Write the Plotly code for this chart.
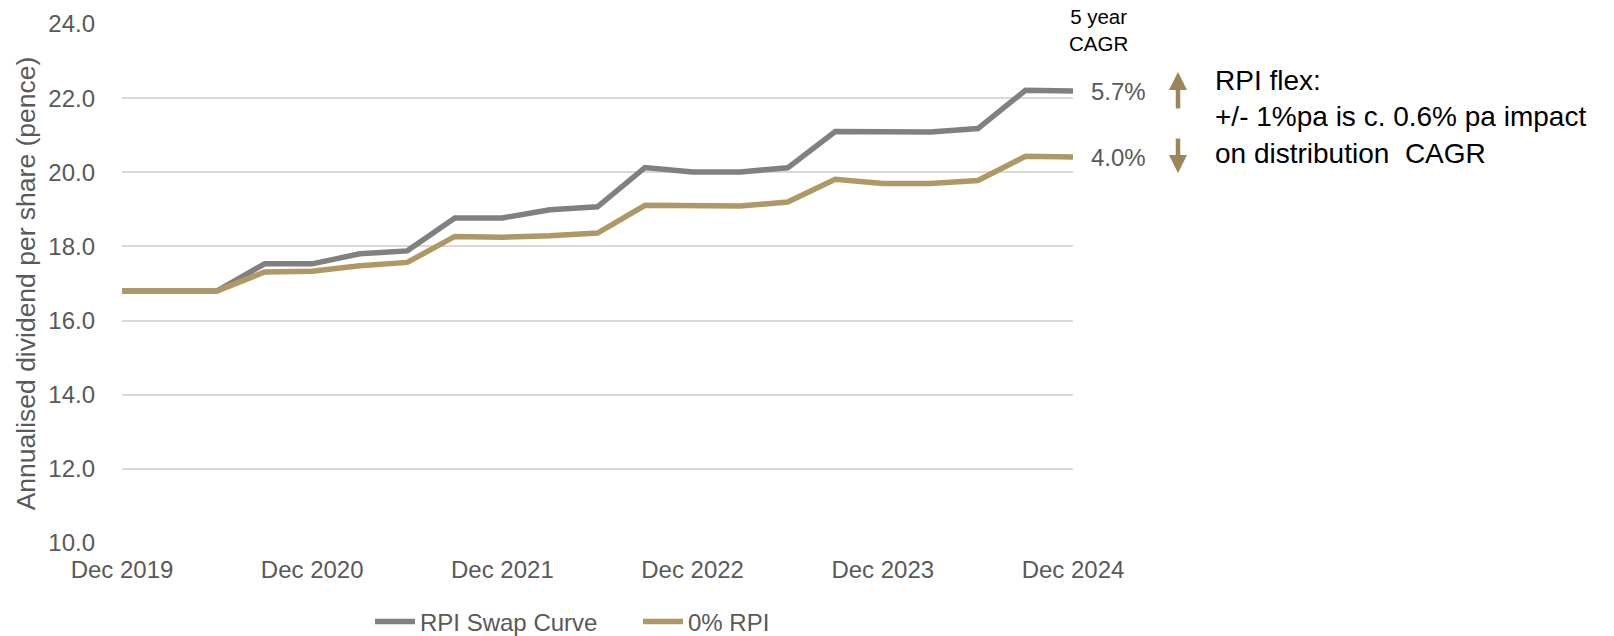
import plotly.graph_objects as go

quarters = ["Dec 2019", "Mar 2020", "Jun 2020", "Sep 2020", "Dec 2020", "Mar 2021", "Jun 2021",
            "Sep 2021", "Dec 2021", "Mar 2022", "Jun 2022", "Sep 2022", "Dec 2022", "Mar 2023",
            "Jun 2023", "Sep 2023", "Dec 2023", "Mar 2024", "Jun 2024", "Sep 2024", "Dec 2024"]
tick_labels = ["Dec 2019", "Dec 2020", "Dec 2021", "Dec 2022", "Dec 2023", "Dec 2024"]

rpi_swap = [16.80, 16.80, 16.80, 17.53, 17.53, 17.80, 17.88, 18.77, 18.77, 18.99, 19.07,
            20.13, 20.01, 20.01, 20.12, 21.10, 21.10, 21.09, 21.18, 22.21, 22.19]
rpi_zero = [16.80, 16.80, 16.80, 17.31, 17.33, 17.48, 17.57, 18.27, 18.25, 18.29, 18.36,
            19.11, 19.11, 19.09, 19.20, 19.81, 19.70, 19.70, 19.78, 20.43, 20.41]

series_names = ["RPI Swap Curve", "0% RPI"]
cagr_labels = ["5.7%", "4.0%"]

GRAY = "#808080"
GOLD = "#B09865"
TXT = "#595959"
ARROW = "#9C8559"
FONT = "Liberation Sans, Arial, sans-serif"

W, H = 1614, 636
L, R, T, B = 122, 541, 24, 93
PW, PH = W - L - R, H - T - B


def px(xp):
    return (xp - L) / PW


def py(yp):
    return (H - B - yp) / PH


fig = go.Figure()
fig.add_trace(go.Scatter(x=quarters, y=rpi_swap, mode="lines", name=series_names[0],
                         line=dict(color=GRAY, width=5.5)))
fig.add_trace(go.Scatter(x=quarters, y=rpi_zero, mode="lines", name=series_names[1],
                         line=dict(color=GOLD, width=5.5)))

fig.update_layout(
    width=W, height=H,
    margin=dict(l=L, r=R, t=T, b=B, autoexpand=False),
    paper_bgcolor="white", plot_bgcolor="white",
    font=dict(family=FONT, size=24, color=TXT),
    showlegend=True,
    legend=dict(orientation="h", x=px(370), xanchor="left", y=py(622), yanchor="middle",
                font=dict(size=24, color=TXT), itemwidth=40, bgcolor="rgba(0,0,0,0)",
                entrywidth=213, entrywidthmode="pixels"),
    xaxis=dict(type="category", categoryorder="array", categoryarray=quarters,
               range=[0, 20], tickmode="array", tickvals=tick_labels, ticktext=tick_labels,
               showgrid=False, zeroline=False, showline=False, ticks="",
               ticklabelstandoff=10, tickfont=dict(size=24, color=TXT)),
    yaxis=dict(range=[10, 24], dtick=2, tick0=10, tickformat=".1f",
               showgrid=True, gridcolor="#D9D9D9", gridwidth=1.6,
               zeroline=False, showline=False, ticks="", ticklabelstandoff=26,
               tickfont=dict(size=24, color=TXT),
               title=dict(text="Annualised dividend per share (pence)",
                          font=dict(size=26.5, color=TXT), standoff=5)),
)

annotations = [
    dict(text=cagr_labels[0], x=px(1089), xref="paper", y=rpi_swap[-1], yref="y",
         xanchor="left", yanchor="middle", showarrow=False, font=dict(size=24, color=TXT)),
    dict(text=cagr_labels[1], x=px(1089), xref="paper", y=rpi_zero[-1], yref="y",
         xanchor="left", yanchor="middle", showarrow=False, font=dict(size=24, color=TXT)),
    dict(text="5 year<br>CAGR", x=px(1098), xref="paper", y=py(3), yref="paper",
         xanchor="center", yanchor="top", align="center", showarrow=False,
         font=dict(size=20.5, color="#000000")),
    dict(text="RPI flex:<br>+/- 1%pa is c. 0.6% pa impact<br>on distribution\u00a0 CAGR",
         x=px(1213), xref="paper", y=py(63), yref="paper", xanchor="left", yanchor="top",
         align="left", showarrow=False, font=dict(size=28, color="#000000")),
    # up arrow
    dict(text="", x=px(1178), xref="paper", y=py(72), yref="paper",
         ax=0, ay=38, axref="pixel", ayref="pixel",
         showarrow=True, arrowhead=2, arrowsize=0.8, arrowwidth=4.5, arrowcolor=ARROW),
    # down arrow
    dict(text="", x=px(1178), xref="paper", y=py(173), yref="paper",
         ax=0, ay=-36, axref="pixel", ayref="pixel",
         showarrow=True, arrowhead=2, arrowsize=0.8, arrowwidth=4.5, arrowcolor=ARROW),
]
fig.update_layout(annotations=annotations)

fig.write_html("out.html")
